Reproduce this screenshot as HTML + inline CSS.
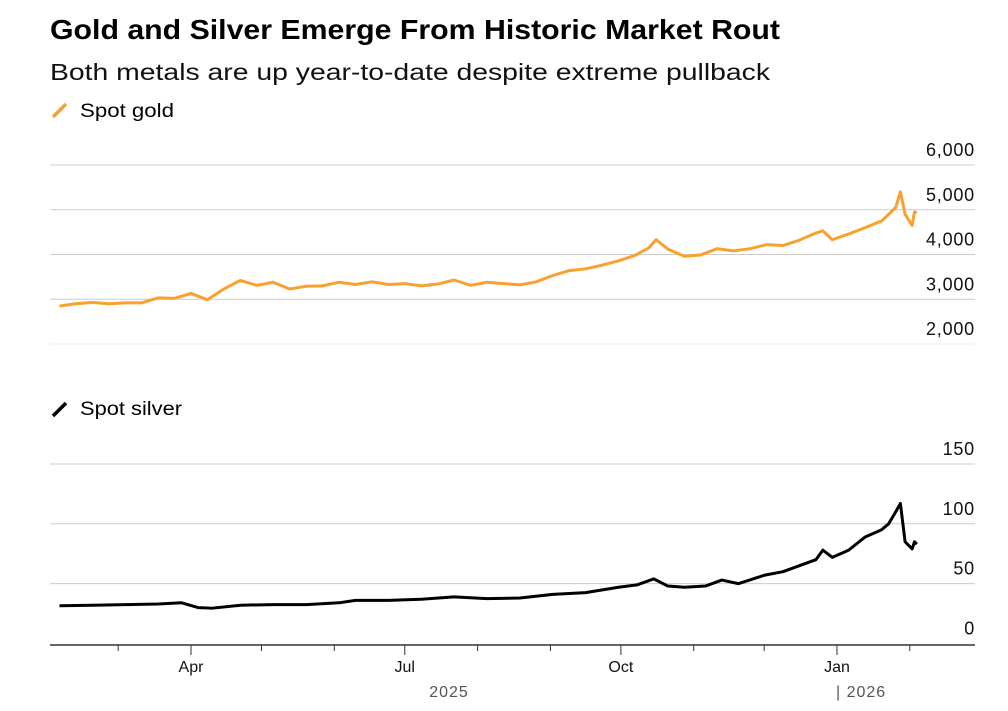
<!DOCTYPE html>
<html><head><meta charset="utf-8"><style>
body{margin:0;background:#fff;font-family:"Liberation Sans",sans-serif;}
svg text{font-family:"Liberation Sans",sans-serif;}
</style></head><body>
<svg id="c" width="1008" height="706">
<text x="50" y="39" font-size="28" font-weight="bold" fill="#000" textLength="730" lengthAdjust="spacingAndGlyphs">Gold and Silver Emerge From Historic Market Rout</text>
<text x="50" y="80" font-size="23" fill="#111" textLength="720" lengthAdjust="spacingAndGlyphs">Both metals are up year-to-date despite extreme pullback</text>
<g><line x1="53" y1="117" x2="66" y2="104" stroke="#f9a12e" stroke-width="3.5"/><text x="80" y="117" font-size="19" textLength="94" lengthAdjust="spacingAndGlyphs">Spot gold</text></g>
<g><line x1="53" y1="416" x2="66" y2="403" stroke="#000" stroke-width="3.5"/><text x="80" y="415" font-size="19" textLength="102" lengthAdjust="spacingAndGlyphs">Spot silver</text></g>
<g id="g"></g>
</svg>
<script>
const goldDates=["2025-02-04","2025-02-11","2025-02-18","2025-02-25","2025-03-04","2025-03-11","2025-03-18","2025-03-25","2025-04-01","2025-04-08","2025-04-15","2025-04-22","2025-04-29","2025-05-06","2025-05-13","2025-05-20","2025-05-27","2025-06-03","2025-06-10","2025-06-17","2025-06-24","2025-07-01","2025-07-08","2025-07-15","2025-07-22","2025-07-29","2025-08-05","2025-08-12","2025-08-19","2025-08-26","2025-09-02","2025-09-09","2025-09-16","2025-09-23","2025-09-30","2025-10-07","2025-10-13","2025-10-16","2025-10-21","2025-10-28","2025-11-04","2025-11-11","2025-11-18","2025-11-25","2025-12-02","2025-12-09","2025-12-16","2025-12-23","2025-12-26","2025-12-30","2026-01-06","2026-01-13","2026-01-20","2026-01-26","2026-01-28","2026-01-30","2026-02-02","2026-02-03","2026-02-04"];
const goldValues=[2850,2900,2930,2900,2920,2920,3030,3020,3130,2990,3230,3420,3310,3380,3230,3290,3300,3380,3330,3390,3330,3350,3300,3340,3430,3310,3380,3350,3320,3390,3530,3640,3680,3760,3860,3980,4150,4330,4120,3960,3990,4130,4080,4130,4220,4200,4320,4480,4530,4330,4460,4600,4750,5050,5400,4900,4650,4950,4940];
const silverDates=["2025-02-04","2025-02-18","2025-03-04","2025-03-18","2025-03-28","2025-04-04","2025-04-10","2025-04-22","2025-05-06","2025-05-20","2025-06-03","2025-06-10","2025-06-24","2025-07-08","2025-07-22","2025-08-05","2025-08-19","2025-09-02","2025-09-16","2025-09-30","2025-10-08","2025-10-15","2025-10-21","2025-10-28","2025-11-06","2025-11-13","2025-11-20","2025-12-01","2025-12-09","2025-12-16","2025-12-23","2025-12-26","2025-12-30","2026-01-06","2026-01-13","2026-01-20","2026-01-23","2026-01-26","2026-01-28","2026-01-30","2026-02-02","2026-02-03","2026-02-04"];
const silverValues=[31.5,32,32.5,33,34,30,29.5,32,32.5,32.5,34,36,36,37,39,37.5,38,41,42.5,47,49,54,48,47,48,53,50,57,60,65,70,78,72,78,89,95,100,110,117,85,79,85,83];
const goldTicks=[2000,3000,4000,5000,6000];
const silverTicks=[0,50,100,150];
const monthTicks=["2025-03-01","2025-04-01","2025-05-01","2025-06-01","2025-07-01","2025-08-01","2025-09-01","2025-10-01","2025-11-01","2025-12-01","2026-01-01","2026-02-01"];
const monthLabels={"2025-04-01":"Apr","2025-07-01":"Jul","2025-10-01":"Oct","2026-01-01":"Jan"};
const NS="http://www.w3.org/2000/svg",G=document.getElementById('g');
const d0=Date.UTC(2025,3,1);
function x(d){const t=Date.parse(d+"T00:00:00Z");return 191+(t-d0)/864e5*2.349;}
function yg(v){return 344-(v-2000)*0.04475;}
function ys(v){return 643.5-v*1.197;}
function el(t,a,txt){const e=document.createElementNS(NS,t);for(const k in a)e.setAttribute(k,a[k]);if(txt!=null)e.textContent=txt;G.appendChild(e);return e;}
goldTicks.forEach(v=>{const l=el('line',{x1:50,x2:975,y1:yg(v),y2:yg(v),stroke:v==2000?'#eee':'#ccc','stroke-width':1});


const t=el('text',{x:975,y:yg(v)-9,'font-size':18,'text-anchor':'end',fill:'#111','letter-spacing':'0.8'},v.toLocaleString('en-US'));

});
silverTicks.forEach(v=>{if(v>0){const l=el('line',{x1:50,x2:975,y1:ys(v),y2:ys(v),stroke:'#ccc','stroke-width':1});

}
const t=el('text',{x:975,y:ys(v)-9,'font-size':18,'text-anchor':'end',fill:'#111','letter-spacing':'0.8'},v);

});
const ax=el('line',{x1:50,x2:975,y1:645,y2:645,stroke:'#333','stroke-width':1.5});


monthTicks.forEach(d=>{const lab=monthLabels[d];const tk=el('line',{x1:x(d),x2:x(d),y1:645,y2:lab?655:651,stroke:'#333','stroke-width':1});


if(lab){const t=el('text',{x:x(d),y:672,'font-size':16,'text-anchor':'middle',fill:'#111'},lab);

}});
const y1=el('text',{x:449,y:697,'font-size':16,'text-anchor':'middle',fill:'#555','letter-spacing':'1'},'2025');


const y2=el('text',{x:836,y:697,'font-size':16,fill:'#555','letter-spacing':'1'},'| 2026');


const gp=el('polyline',{points:goldDates.map((d,i)=>x(d)+','+yg(goldValues[i])).join(' '),fill:'none',stroke:'#f9a12e','stroke-width':3,'stroke-linejoin':'round'});


const sp=el('polyline',{points:silverDates.map((d,i)=>x(d)+','+ys(silverValues[i])).join(' '),fill:'none',stroke:'#000','stroke-width':3,'stroke-linejoin':'round'});


</script>
</body></html>
